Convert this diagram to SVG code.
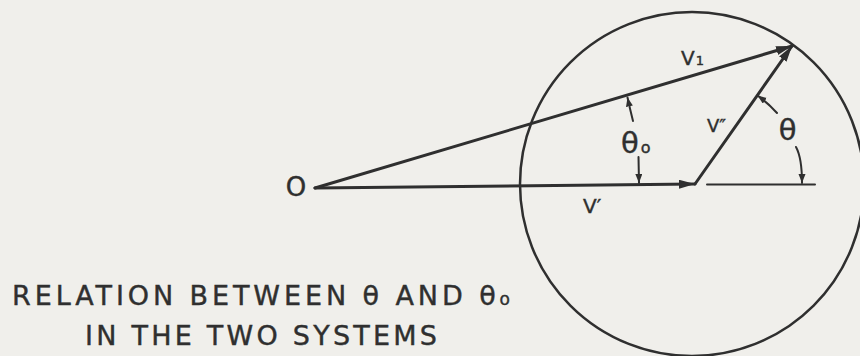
<svg xmlns="http://www.w3.org/2000/svg" width="860" height="356" viewBox="0 0 860 356">
  <style>
    .ink { stroke: #2f2f2f; fill: none; stroke-linecap: round; }
    .vec { stroke-width: 3; }
    .thin { stroke-width: 2; }
    .lbl { font-family: "DejaVu Sans", "Liberation Sans", Arial, sans-serif; fill: #2f2f2f; stroke: #2f2f2f; stroke-width: 0.4; }
  </style>
  <defs>
    <marker id="big" markerUnits="userSpaceOnUse" markerWidth="17" markerHeight="10" refX="16" refY="4.5" orient="auto">
      <path d="M0,0 L16,4.5 L0,9 z" fill="#2f2f2f"/>
    </marker>
    <marker id="small" markerUnits="userSpaceOnUse" markerWidth="10" markerHeight="8" refX="9" refY="3.5" orient="auto">
      <path d="M0,0 L9,3.5 L0,7 z" fill="#2f2f2f"/>
    </marker>
  </defs>
  <rect width="860" height="356" fill="#f0efeb"/>

  <g id="circle">
    <circle class="ink" cx="692" cy="184" r="172" stroke-width="2.5"/>
  </g>

  <g id="connectors">
    <line id="v1" class="ink vec" x1="315" y1="188" x2="792" y2="46" marker-end="url(#big)"/>
    <line id="vprime" class="ink vec" x1="315" y1="188" x2="695" y2="184" marker-end="url(#big)"/>
    <line id="vdprime" class="ink vec" x1="695" y1="184" x2="792" y2="46" marker-end="url(#big)"/>
    <line id="reference" class="ink thin" x1="707" y1="184.5" x2="815" y2="184.5"/>
    <path id="theta0-up" class="ink thin" d="M633,121 Q630,109 627.5,97.5" marker-end="url(#small)"/>
    <path id="theta0-down" class="ink thin" d="M638.5,157 L639,183" marker-end="url(#small)"/>
    <path id="theta-up" class="ink thin" d="M777,113 Q768,103 757.5,95.5" marker-end="url(#small)"/>
    <path id="theta-down" class="ink thin" d="M796,147 Q802,158 802,183" marker-end="url(#small)"/>
  </g>

  <g id="label-O">
    <text class="lbl" x="296" y="196" font-size="26" text-anchor="middle">O</text>
  </g>
  <g id="label-v1">
    <text class="lbl" x="681" y="65" font-size="20">V<tspan font-size="13" dx="1">1</tspan></text>
  </g>
  <g id="label-vprime">
    <text class="lbl" x="583" y="213" font-size="20">V′</text>
  </g>
  <g id="label-vdprime">
    <text class="lbl" x="707" y="132" font-size="18">V″</text>
  </g>
  <g id="label-theta0">
    <text class="lbl" x="621" y="153" font-size="29">θ<tspan font-size="16" dx="2">o</tspan></text>
  </g>
  <g id="label-theta">
    <text class="lbl" x="787.5" y="140" font-size="29" text-anchor="middle">θ</text>
  </g>

  <g id="caption">
    <text class="lbl" x="12" y="305" font-size="27" textLength="498" lengthAdjust="spacing">RELATION BETWEEN θ AND θ<tspan font-size="17">o</tspan></text>
    <text class="lbl" x="85" y="345" font-size="27" textLength="352" lengthAdjust="spacing">IN THE TWO SYSTEMS</text>
  </g>
</svg>
